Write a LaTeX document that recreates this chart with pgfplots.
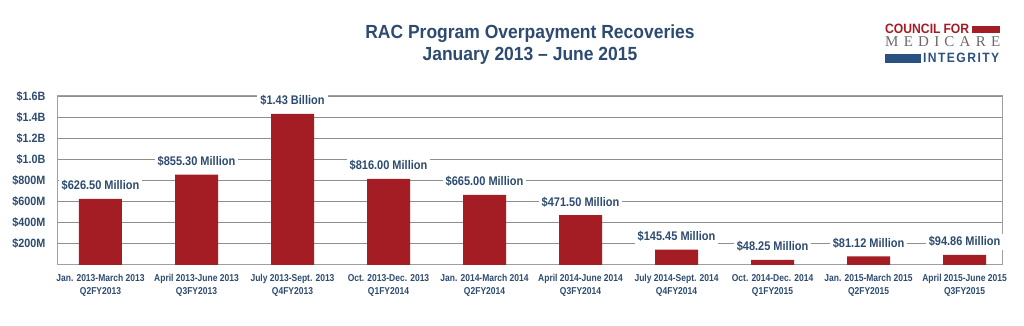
\documentclass[border=0pt]{standalone}
\usepackage{fontspec}
\setmainfont{Liberation Sans}
\newfontfamily\xlabfont{Liberation Sans}[FakeStretch=0.85]
\newfontfamily\valfont{Liberation Sans}[FakeStretch=0.88]
\newfontfamily\ytfont{Liberation Sans}[FakeStretch=0.9]
\newfontfamily\logofont{Liberation Sans}[FakeStretch=0.9]
\newfontfamily\titlefont{Liberation Sans}[FakeStretch=0.92]
\newfontfamily\seriffont{Liberation Serif}
\usepackage{pgfplots}
\pgfplotsset{compat=1.18}
\definecolor{barred}{HTML}{A51D24}
\definecolor{txtblue}{HTML}{2D4B70}
\definecolor{logoblue}{HTML}{2B5180}
\definecolor{gridgray}{HTML}{8E8E8E}
\definecolor{framegray}{HTML}{A0A0A0}
\definecolor{logogray}{HTML}{6A6A6A}
\begin{document}
\begin{tikzpicture}[x=1pt,y=1pt]
\useasboundingbox (0,0) rectangle (1024,326);
\begin{axis}[
  at={(57pt,61pt)}, anchor=south west,
  scale only axis, width=945pt, height=169pt,
  xmin=-0.453, xmax=9.39, ymin=0, ymax=1.6,
  clip=false,
  axis line style={framegray, line width=1pt},
  ymajorgrids, grid style={gridgray, line width=0.9pt},
  ytick={0.2,0.4,0.6,0.8,1.0,1.2,1.4,1.6},
  yticklabels={\$200M,\$400M,\$600M,\$800M,\$1.0B,\$1.2B,\$1.4B,\$1.6B},
  yticklabel style={font=\ytfont\bfseries\fontsize{12}{14}\selectfont, text=txtblue, xshift=-8pt},
  xtick={0,1,2,3,4,5,6,7,8,9},
  xticklabels={
    {Jan. 2013-March 2013\\[1pt]Q2FY2013},
    {April 2013-June 2013\\[1pt]Q3FY2013},
    {July 2013-Sept. 2013\\[1pt]Q4FY2013},
    {Oct. 2013-Dec. 2013\\[1pt]Q1FY2014},
    {Jan. 2014-March 2014\\[1pt]Q2FY2014},
    {April 2014-June 2014\\[1pt]Q3FY2014},
    {July 2014-Sept. 2014\\[1pt]Q4FY2014},
    {Oct. 2014-Dec. 2014\\[1pt]Q1FY2015},
    {Jan. 2015-March 2015\\[1pt]Q2FY2015},
    {April 2015-June 2015\\[1pt]Q3FY2015}},
  xticklabel style={font=\xlabfont\bfseries\fontsize{10}{12}\selectfont, text=txtblue, align=center, yshift=-6pt},
  major tick length=0pt,
  point meta=explicit symbolic,
  nodes near coords,
  nodes near coords style={font=\valfont\bfseries\fontsize{12.5}{14}\selectfont, text=txtblue, fill=white, inner sep=3pt, anchor=base, yshift=9pt},
]
\addplot[ybar, bar width=43pt, fill=barred, draw=none] coordinates {
  (0,0.6265) [\$626.50 Million]
  (1,0.8553) [\$855.30 Million]
  (2,1.43) [\$1.43 Billion]
  (3,0.816) [\$816.00 Million]
  (4,0.665) [\$665.00 Million]
  (5,0.4715) [\$471.50 Million]
  (6,0.14545) [\$145.45 Million]
  (7,0.04825) [\$48.25 Million]
  (8,0.08112) [\$81.12 Million]
  (9,0.09486) [\$94.86 Million]
};
\end{axis}
% title
\node[anchor=base, text=txtblue, font=\titlefont\bfseries\fontsize{19}{22}\selectfont] at (530,287) {RAC Program Overpayment Recoveries};
\node[anchor=base, text=txtblue, font=\titlefont\bfseries\fontsize{19}{22}\selectfont] at (530,265) {January 2013 – June 2015};
% logo
\node[anchor=base west, inner sep=0pt, text=barred, font=\logofont\bfseries\fontsize{13.5}{16}\selectfont] at (885,292) {\makebox[84pt][s]{COUNCIL\hfill FOR}};
\fill[barred] (972,293) rectangle (1000,299.5);
\node[anchor=base west, inner sep=0pt, text=logogray, font=\seriffont\fontsize{15}{17}\selectfont] at (885,279) {\makebox[115pt][s]{M\hfill E\hfill D\hfill I\hfill C\hfill A\hfill R\hfill E}};
\fill[logoblue] (885,263) rectangle (921,271.5);
\node[anchor=base west, inner sep=0pt, text=logoblue, font=\logofont\bfseries\fontsize{13.5}{16}\selectfont] at (923,263) {\makebox[76pt][s]{I\hfill N\hfill T\hfill E\hfill G\hfill R\hfill I\hfill T\hfill Y}};
\end{tikzpicture}
\end{document}
